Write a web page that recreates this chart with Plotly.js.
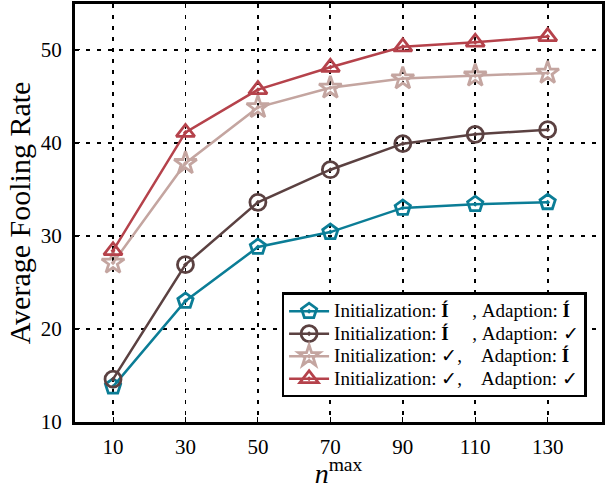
<!DOCTYPE html>
<html><head><meta charset="utf-8">
<script src="https://cdn.plot.ly/plotly-3.0.1.min.js"></script>
<style>html,body{margin:0;padding:0;background:#fff}</style>
</head><body>
<div id="chart" style="width:608px;height:489px"></div>
<script>
const nmax = [10, 30, 50, 70, 90, 110, 130];
const seriesNames = [
  "Initialization: <b>Í</b>\u00A0\u00A0\u00A0\u00A0\u00A0,\u00A0Adaption: <b>Í</b>",
  "Initialization: <b>Í</b>\u00A0\u00A0\u00A0\u00A0\u00A0,\u00A0Adaption: ✓",
  "Initialization: ✓,\u00A0\u00A0\u00A0\u00A0Adaption: <b>Í</b>",
  "Initialization: ✓,\u00A0\u00A0\u00A0\u00A0Adaption: ✓"
];
const initNoAdaptNo = [13.8, 23.0, 28.8, 30.4, 33.0, 33.4, 33.6];
const initNoAdaptYes = [14.6, 26.9, 33.6, 37.1, 39.9, 40.9, 41.4];
const initYesAdaptNo = [27.1, 37.8, 43.8, 45.9, 46.9, 47.2, 47.5];
const initYesAdaptYes = [28.4, 41.1, 45.7, 48.1, 50.3, 50.8, 51.4];
const yTicks = [10, 20, 30, 40, 50];

const colors = ["#0b7d96", "#5b4141", "#c4a5a0", "#b5424b"];
const symbols = ["pentagon-open-dot", "circle-open-dot", "star-open-dot", "triangle-up-open-dot"];
const sizes = [16, 16, 17, 16];
const ys = [initNoAdaptNo, initNoAdaptYes, initYesAdaptNo, initYesAdaptYes];

const traces = ys.map((y, i) => ({
  x: nmax, y: y, type: "scatter", mode: "lines+markers",
  name: '<span style="font-size:19px">' + seriesNames[i] + '</span>',
  line: {color: colors[i], width: 2.5},
  marker: {symbol: symbols[i], size: sizes[i], color: colors[i], line: {width: 2.8, color: colors[i]}}
}));

const font = {family: "Liberation Serif", color: "#000"};
const layout = {
  width: 608, height: 489,
  margin: {l: 75, r: 6, t: 4, b: 67},
  paper_bgcolor: "#fff", plot_bgcolor: "#fff",
  font: Object.assign({size: 18}, font),
  showlegend: true,
  legend: {x: 0.392, y: 0.31, xanchor: "left", yanchor: "top",
    bgcolor: "#fff", bordercolor: "#000", borderwidth: 2.5,
    font: Object.assign({size: 15}, font), tracegroupgap: 0, itemwidth: 40},
  xaxis: {
    range: [-0.5, 145], tickvals: nmax, ticktext: nmax.map(String),
    showline: true, linecolor: "#000", linewidth: 3, mirror: true,
    ticks: "inside", ticklen: 5, tickcolor: "#000",
    showgrid: true, gridcolor: "#000", griddash: "4px,7px", gridwidth: 1.8,
    zeroline: false, tickfont: Object.assign({size: 21}, font), ticklabelstandoff: 4,
    title: {text: "<i>n</i><sup>max</sup>", font: Object.assign({size: 28}, font), standoff: 6}
  },
  yaxis: {
    range: [10, 54.9], tickvals: yTicks,
    showline: true, linecolor: "#000", linewidth: 3, mirror: true,
    ticks: "inside", ticklen: 5, tickcolor: "#000",
    showgrid: true, gridcolor: "#000", griddash: "4px,7px", gridwidth: 1.8,
    zeroline: false, tickfont: Object.assign({size: 21}, font), ticklabelstandoff: 6,
    title: {text: "Average Fooling Rate", font: Object.assign({size: 30}, font), standoff: 2}
  }
};
Plotly.newPlot("chart", traces, layout, {displayModeBar: false, staticPlot: true});
</script>
</body></html>
